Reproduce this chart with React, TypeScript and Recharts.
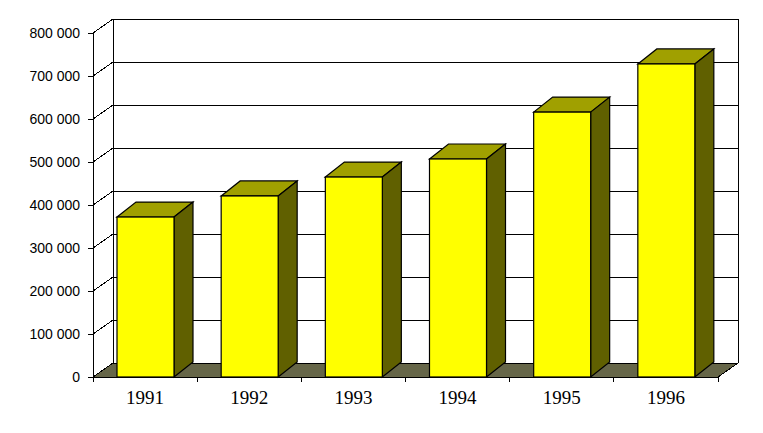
import { BarChart, Bar, XAxis, YAxis, CartesianGrid } from 'recharts'

const years = ['1991', '1992', '1993', '1994', '1995', '1996']
const totals = [372000, 421000, 465000, 507000, 616000, 728000]
const yTicks = [0, 100000, 200000, 300000, 400000, 500000, 600000, 700000, 800000]

const data = years.map((year, i) => ({ year, total: totals[i] }))

// depth of the fake 3D box
const DX = 20
const DY = 14
const FRONT = '#FFFF00'
const TOP = '#A0A000'
const SIDE = '#606000'
const FLOOR = '#666648'
const X_TICK_SIZE = 6
const X_TICK_MARGIN = 2

function fmtY(v: number) {
  return String(v).replace(/\B(?=(\d{3})+(?!\d))/g, ' ')
}

// back wall line + the diagonal running back from the front axis
function wallLine(props: any) {
  const { x1, y1, x2, x, y, width, height, index } = props
  const top = y
  const bottom = y + height
  return (
    <g key={`wall-${index}`} shapeRendering="crispEdges">
      {index === 0 && (
        <>
          <polygon
            points={`${x},${bottom} ${x + width},${bottom} ${x + width + DX},${bottom - DY} ${x + DX},${bottom - DY}`}
            fill={FLOOR}
            stroke="#000"
          />
          <line x1={x + DX} y1={top - DY} x2={x + DX} y2={bottom - DY} stroke="#000" />
          <line x1={x + width + DX} y1={top - DY} x2={x + width + DX} y2={bottom - DY} stroke="#000" />
        </>
      )}
      <line x1={x1} y1={y1} x2={x1 + DX} y2={y1 - DY} stroke="#000" />
      <line x1={x1 + DX} y1={y1 - DY} x2={x2 + DX} y2={y1 - DY} stroke="#000" />
    </g>
  )
}

function Box3D(props: any) {
  const { x, y, width, height } = props
  const dx = 19
  const dy = 15
  return (
    <g stroke="#000" strokeWidth={1.2} strokeLinejoin="miter">
      <polygon
        points={`${x},${y} ${x + dx},${y - dy} ${x + width + dx},${y - dy} ${x + width},${y}`}
        fill={TOP}
      />
      <polygon
        points={`${x + width},${y} ${x + width + dx},${y - dy} ${x + width + dx},${y + height - dy} ${x + width},${y + height}`}
        fill={SIDE}
      />
      <rect x={x} y={y} width={width} height={height} fill={FRONT} />
    </g>
  )
}

function YearTick(props: any) {
  const { x, y, payload, index, visibleTicksCount } = props
  const axisY = y - X_TICK_SIZE - X_TICK_MARGIN
  const half = payload.offset ?? 52
  return (
    <g>
      <line x1={x - half} y1={axisY} x2={x - half} y2={axisY + 5} stroke="#000" shapeRendering="crispEdges" />
      {index === visibleTicksCount - 1 && (
        <line x1={x + half} y1={axisY} x2={x + half} y2={axisY + 5} stroke="#000" shapeRendering="crispEdges" />
      )}
      <text
        x={x}
        y={axisY + 27}
        textAnchor="middle"
        fill="#000"
        fontSize={19}
        fontFamily="'Liberation Serif', 'Times New Roman', serif"
      >
        {payload.value}
      </text>
    </g>
  )
}

export default function App() {
  return (
    <div style={{ position: 'absolute', left: 0, top: 0, width: 763, height: 433, background: '#fff' }}>
      <BarChart
        width={763}
        height={433}
        data={data}
        margin={{ top: 33, right: 45, left: 0, bottom: 26 }}
      >
        <CartesianGrid horizontal={wallLine} vertical={false} />
        <XAxis
          dataKey="year"
          axisLine={false}
          tickLine={false}
          tickSize={X_TICK_SIZE}
          tickMargin={X_TICK_MARGIN}
          tick={<YearTick />}
          interval={0}
          height={30}
        />
        <YAxis
          domain={[0, 800000]}
          ticks={yTicks}
          interval={0}
          tickFormatter={fmtY}
          width={93}
          tickSize={5}
          tickMargin={8}
          axisLine={{ stroke: '#000', shapeRendering: 'crispEdges' }}
          tickLine={{ stroke: '#000', shapeRendering: 'crispEdges' }}
          tick={{ fontSize: 14, fill: '#000', fontFamily: "'Liberation Sans', Arial, sans-serif" }}
        />
        <Bar dataKey="total" barSize={57} shape={<Box3D />} isAnimationActive={false} />
      </BarChart>
    </div>
  )
}
